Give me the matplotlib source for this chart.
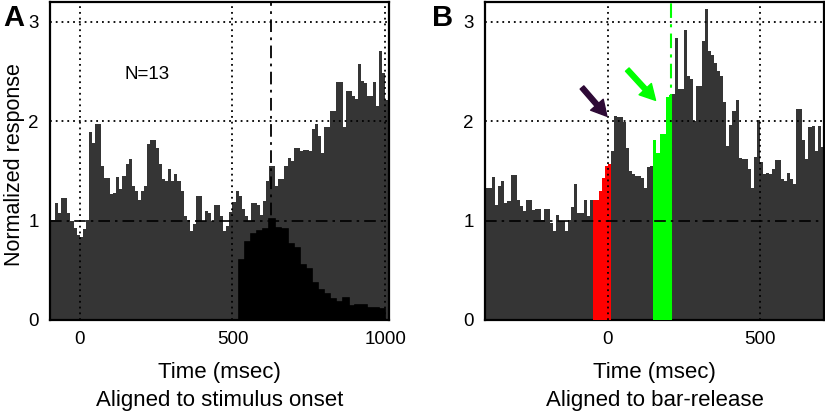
import numpy as np
import matplotlib
matplotlib.use("Agg")
import matplotlib.pyplot as plt

plt.rcParams['font.family'] = ['Liberation Sans', 'DejaVu Sans']

# ---- data: panel A (aligned to stimulus onset), 10 ms bins from -100 ms
a_start = -100
a_width = 10
a_resp = [1.01, 1.01, 1.18, 1.08, 1.23, 1.23, 1.08, 1.00, 0.93, 0.86,
          0.84, 0.92, 1.01, 1.89, 1.78, 1.97, 1.97, 1.55, 1.43, 1.43,
          1.27, 1.28, 1.44, 1.32, 1.45, 1.57, 1.62, 1.35, 1.30, 1.21,
          1.30, 1.35, 1.77, 1.81, 1.81, 1.73, 1.57, 1.42, 1.40, 1.52,
          1.40, 1.47, 1.40, 1.30, 1.05, 1.01, 0.90, 0.97, 1.25, 1.25,
          1.00, 1.10, 1.08, 1.00, 1.16, 1.16, 1.05, 0.90, 0.95, 1.09,
          1.19, 1.30, 1.25, 1.12, 1.05, 1.00, 1.18, 1.18, 1.16, 1.06,
          1.20, 1.40, 1.55, 1.55, 1.35, 1.42, 1.42, 1.55, 1.63, 1.60,
          1.73, 1.73, 1.70, 1.71, 1.71, 1.70, 1.92, 1.97, 1.85, 1.68,
          1.94, 1.94, 2.10, 2.10, 2.40, 2.40, 1.94, 2.30, 2.30, 2.25,
          2.22, 2.58, 2.41, 2.38, 2.25, 2.25, 2.40, 2.15, 2.71, 2.49,
          2.21]

# reaction time distribution (black), 20 ms bins from 0 ms
rt_start = 0
rt_width = 20
rt_dist = [0, 0, 0, 0, 0, 0, 0, 0, 0, 0, 0, 0, 0, 0, 0, 0, 0, 0, 0, 0,
           0, 0, 0, 0, 0, 0,
           0.60, 0.78, 0.87, 0.90, 0.92, 1.02, 0.93, 0.92, 0.76, 0.72,
           0.55, 0.51, 0.37, 0.30, 0.26, 0.21, 0.18, 0.22, 0.14, 0.15,
           0.15, 0.12, 0.12, 0.11]
a_rt_line = 627

# ---- data: panel B (aligned to bar-release), 10 ms bins from -400 ms
b_start = -400
b_width = 10
b_resp = [1.33, 1.33, 1.44, 1.16, 1.35, 1.40, 1.18, 1.20, 1.46, 1.46,
          1.21, 1.15, 1.10, 1.21, 1.21, 1.11, 1.12, 1.12, 1.01, 1.12,
          1.12, 0.98, 0.90, 1.06, 1.00, 1.00, 0.90, 1.01, 1.14, 1.37,
          1.08, 1.08, 1.21, 1.05, 1.21,
          1.21, 1.21, 1.30, 1.43, 1.55, 1.57,
          1.70, 2.05, 2.04, 2.04, 1.99, 1.73, 1.50, 1.47, 1.45, 1.45,
          1.43, 1.33, 1.54, 1.55, 1.81,
          1.68, 1.87, 1.87, 2.24, 2.26, 2.27,
          2.84, 2.32, 2.32, 2.92, 2.46, 2.43, 2.00, 2.35, 2.35, 2.81,
          3.13, 2.71, 2.67, 2.59, 2.51, 2.46, 2.19, 1.75, 1.96, 2.10,
          2.21, 1.63, 1.62, 1.62, 1.52, 1.33, 1.64, 2.01, 1.59, 1.47,
          1.48, 1.47, 1.52, 1.61, 1.61, 1.42, 1.40, 1.48, 1.42, 1.37,
          2.12, 2.12, 1.81, 1.62, 1.94, 1.95, 1.70, 1.95, 1.74, 2.14]
red_span = (-50, 10)
green_span = (150, 210)
green_line = 208

gray = '#353535'
red = '#ff0000'
green = '#00ff00'
purple = '#2e0a36'

dots = (0, (1, 2.2))
dashdot = (0, (7, 3, 1.5, 3))

fig = plt.figure(figsize=(8.25, 4.13), dpi=100)
axA = fig.add_axes([50 / 825, 93 / 413, 339 / 825, 318 / 413])
axB = fig.add_axes([485 / 825, 93 / 413, 339 / 825, 318 / 413])


def edges(start, width, n):
    return start + width * np.arange(n + 1)


def style(ax, xlim, xticks, xlab):
    ax.set_xlim(*xlim)
    ax.set_ylim(0, 3.2)
    ax.set_yticks([0, 1, 2, 3])
    ax.set_xticks(xticks)
    ax.tick_params(length=0, labelsize=13.5, pad=8)
    for s in ax.spines.values():
        s.set_linewidth(1.6)
    ax.set_xlabel(xlab, fontsize=16, linespacing=1.45, labelpad=10)
    ax.axhline(1, color='black', lw=1.2, ls=dashdot, zorder=5)
    for yv in (2, 3):
        ax.axhline(yv, color='black', lw=1.3, ls=dots, zorder=5)
    for xv in xticks:
        ax.axvline(xv, color='black', lw=1.3, ls=dots, zorder=5)


# panel A
ea = edges(a_start, a_width, len(a_resp))
axA.stairs(a_resp, ea, fill=True, color=gray, lw=0, zorder=2)
er = edges(rt_start, rt_width, len(rt_dist))
axA.stairs(rt_dist, er, fill=True, color='black', lw=0, zorder=3)
axA.stairs(rt_dist, er, color='black', lw=1.2, zorder=3)
axA.axvline(a_rt_line, color='black', lw=1.3, ls=dashdot, zorder=5)
style(axA, (-97, 1012), [0, 500, 1000], 'Time (msec)\nAligned to stimulus onset')
axA.set_ylabel('Normalized response', fontsize=15.5)
axA.yaxis.set_label_coords(-0.075, 0.49)
axA.text(219, 2.47, 'N=13', fontsize=13.5, ha='center', va='center')
fig.text(3 / 825, 1 - 4 / 413, 'A', fontsize=21, fontweight='bold', va='top', ha='left')

# panel B
eb = edges(b_start, b_width, len(b_resp))
axB.stairs(b_resp, eb, fill=True, color=gray, lw=0, zorder=2)
b_arr = np.array(b_resp)
for span, col in ((red_span, red), (green_span, green)):
    m = (eb[:-1] >= span[0]) & (eb[:-1] < span[1])
    idx = np.where(m)[0]
    axB.stairs(b_arr[idx], eb[idx[0]:idx[-1] + 2], fill=True, color=col, lw=0, zorder=3)
style(axB, (-404, 711), [0, 500], 'Time (msec)\nAligned to bar-release')
axB.axvline(green_line, color=green, lw=1.5, ls=dashdot, zorder=4)
axB.annotate('', xy=(-3, 2.05), xytext=(-85, 2.34),
             arrowprops=dict(facecolor=purple, edgecolor=purple, width=3.5,
                             headwidth=12, headlength=11), zorder=6)
axB.annotate('', xy=(157, 2.21), xytext=(64, 2.52),
             arrowprops=dict(facecolor=green, edgecolor=green, width=3.5,
                             headwidth=12, headlength=11), zorder=6)
fig.text(432 / 825, 1 - 4 / 413, 'B', fontsize=21, fontweight='bold', va='top', ha='left')

fig.savefig('out.png', dpi=100)
